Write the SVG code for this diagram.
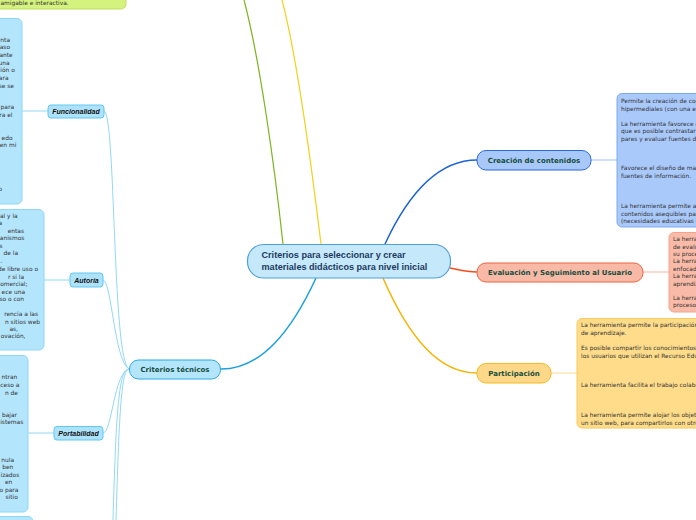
<svg xmlns="http://www.w3.org/2000/svg" width="696" height="520" viewBox="0 0 696 520">
<style>
.body{font-family:"DejaVu Sans",Verdana,sans-serif;font-size:5.9px;fill:#333}
.end{text-anchor:end}
.lbl{font-family:"DejaVu Sans",Verdana,sans-serif;font-size:7px;font-weight:bold;fill:#174d3c;text-anchor:middle}
.sub{font-family:"Liberation Sans",Arial,sans-serif;font-size:7px;font-weight:bold;font-style:italic;fill:#111;text-anchor:middle}
.main{font-family:"Liberation Sans",Arial,sans-serif;font-size:9.1px;font-weight:bold;fill:#1b3a5e}
.bbox{fill:#b3e5fc;stroke:#8fd6f6;stroke-width:1}
.bnode{fill:#aee2fa;stroke:#5fc8f2;stroke-width:1}
.thin{fill:none;stroke:#92d8f6;stroke-width:1}
</style>
<g id="connectors" fill="none">
<path d="M283,244 C275,170 260,60 244,0" stroke="#7bb51a" stroke-width="1.2"/>
<path d="M321,244 C312,170 298,60 282,0" stroke="#f0d21a" stroke-width="1.2"/>
<path d="M316,278 C292,330 262,369 221,369" stroke="#1d9fe0" stroke-width="1.5"/>
<path d="M385,244 C410,190 440,160 477,160" stroke="#1a62d6" stroke-width="1.5"/>
<path d="M450,268 C460,270 466,272 477,272" stroke="#f04c1c" stroke-width="1.5"/>
<path d="M383,278 C410,340 440,373 477,373" stroke="#f5b400" stroke-width="1.5"/>
<path d="M591,160 L617,160" stroke="#a9c9fb" stroke-width="1.2"/>
<path d="M643,272 L669,272" stroke="#f9c2b0" stroke-width="1.2"/>
<path d="M551,373 L577,373" stroke="#fde2a4" stroke-width="1.2"/>
<path class="thin" d="M104,111 C116,113 112,360 129,369"/>
<path class="thin" d="M103,280 C112,282 114,360 129,369"/>
<path class="thin" d="M103,433 C112,433 114,372 129,369"/>
<path class="thin" d="M129,369 C118,369 116,420 113,520"/>
<path class="thin" d="M129,369 C121,369 119,420 116,520"/>
<path class="thin" d="M22,111 L48,111"/>
<path class="thin" d="M44,280 L70,280"/>
<path class="thin" d="M28,433 L54,433"/>
</g>
<g id="top-green">
<rect x="-20" y="-20" width="146" height="29" rx="5" fill="#d4f27e" stroke="#bde05e"/>
<text class="body" x="0.5" y="5">amigable e interactiva.</text>
</g>
<g id="funcionalidad-text">
<rect class="bbox" x="-20" y="18.5" width="42" height="185.5" rx="5"/>
<text class="body end" x="10" y="41.5">nta</text>
<text class="body end" x="10" y="49">aso</text>
<text class="body end" x="12.7" y="57">ante</text>
<text class="body end" x="9.5" y="64.5">una</text>
<text class="body end" x="14.8" y="72">ción o</text>
<text class="body end" x="8.5" y="80">ara</text>
<text class="body end" x="14" y="87.5">se se</text>
<text class="body end" x="14" y="108.7">para</text>
<text class="body end" x="12.5" y="116.5">ra el</text>
<text class="body end" x="12.5" y="139.5">edo</text>
<text class="body end" x="16.3" y="147">en mi</text>
<text class="body end" x="2.2" y="191">o</text>
</g>
<g id="funcionalidad">
<rect class="bnode" x="48" y="105" width="56" height="13" rx="3"/>
<text class="sub" x="76" y="114">Funcionalidad</text>
</g>
<g id="autoria-text">
<rect class="bbox" x="-20" y="209.5" width="64" height="140.5" rx="5"/>
<text class="body end" x="17.7" y="217.7">al y la</text>
<text class="body end" x="2.2" y="225.3">a</text>
<text class="body end" x="24" y="232.7">entas</text>
<text class="body end" x="24.3" y="240.3">anismos</text>
<text class="body end" x="2.6" y="247.7">s</text>
<text class="body end" x="18" y="255.3">de la</text>
<text class="body end" x="2" y="263">.</text>
<text class="body end" x="38" y="271.3">de libre uso o</text>
<text class="body end" x="24" y="278.7">r si la</text>
<text class="body end" x="27.5" y="286">a comercial;</text>
<text class="body end" x="25" y="293.7">ece una</text>
<text class="body end" x="24" y="301">so o con</text>
<text class="body end" x="38" y="316">rencia a las</text>
<text class="body end" x="40" y="323.7">n sitios web</text>
<text class="body end" x="18" y="331">as,</text>
<text class="body end" x="25.5" y="338">ovación,</text>
</g>
<g id="autoria">
<rect class="bnode" x="70" y="273" width="33" height="14" rx="3"/>
<text class="sub" x="86.5" y="282.5">Autoría</text>
</g>
<g id="portabilidad-text">
<rect class="bbox" x="-20" y="355.5" width="48" height="156.5" rx="5"/>
<text class="body end" x="17.3" y="379">ntran</text>
<text class="body end" x="19.3" y="387">ceso a</text>
<text class="body end" x="18" y="394.5">n de</text>
<text class="body end" x="17" y="416.5">bajar</text>
<text class="body end" x="23.3" y="423.5">istemas</text>
<text class="body end" x="14" y="461.5">nula</text>
<text class="body end" x="13.3" y="469">ben</text>
<text class="body end" x="19.3" y="476.5">izados</text>
<text class="body end" x="12.3" y="483.5">en</text>
<text class="body end" x="18.3" y="491.5">o para</text>
<text class="body end" x="17.8" y="499">sitio</text>
</g>
<g id="portabilidad">
<rect class="bnode" x="54" y="426.5" width="49" height="13.5" rx="3"/>
<text class="sub" x="78.5" y="436">Portabilidad</text>
</g>
<g id="next-box">
<rect class="bbox" x="-20" y="516.5" width="53" height="30" rx="5"/>
</g>
<g id="criterios-tecnicos">
<rect x="129.5" y="360" width="91" height="19" rx="9" fill="#b3e5fc" stroke="#2aa9e2" stroke-width="1"/>
<text class="lbl" x="175" y="372">Criterios técnicos</text>
</g>
<g id="main">
<rect x="247.5" y="244.5" width="203" height="33.5" rx="16" fill="#c5e8fa" stroke="#4f9fd8" stroke-width="1.2"/>
<text class="main" x="261.5" y="258.3">Criterios para seleccionar y crear</text>
<text class="main" x="261.5" y="270">materiales didácticos para nivel inicial</text>
</g>
<g id="creacion">
<rect x="477" y="150.5" width="114" height="19.5" rx="9" fill="#a8c8f9" stroke="#2b6bd8" stroke-width="1"/>
<text class="lbl" x="534" y="163">Creación de contenidos</text>
</g>
<g id="creacion-text">
<rect x="617" y="93.5" width="100" height="133.5" rx="5" fill="#a9c9fb" stroke="#7ea9ef" stroke-width="1"/>
<text class="body" x="621" y="103">Permite la creación de contenidos</text>
<text class="body" x="621" y="110.5">hipermediales (con una estructura</text>
<text class="body" x="621" y="125.5">La herramienta favorece el trabajo</text>
<text class="body" x="621" y="133">que es posible contrastar con sus</text>
<text class="body" x="621" y="140.5">pares y evaluar fuentes de</text>
<text class="body" x="621" y="170">Favorece el diseño de materiales</text>
<text class="body" x="621" y="177.5">fuentes de información.</text>
<text class="body" x="621" y="208">La herramienta permite adaptar</text>
<text class="body" x="621" y="215.5">contenidos asequibles para todos</text>
<text class="body" x="621" y="223">(necesidades educativas especiales</text>
</g>
<g id="evaluacion">
<rect x="477" y="263" width="166" height="19" rx="9" fill="#f8b9a6" stroke="#f0623f" stroke-width="1"/>
<text class="lbl" x="560" y="275.3">Evaluación y Seguimiento al Usuario</text>
</g>
<g id="evaluacion-text">
<rect x="669" y="232.5" width="60" height="79.5" rx="5" fill="#f9bba8" stroke="#f2a38d" stroke-width="1"/>
<text class="body" x="673" y="241">La herramienta</text>
<text class="body" x="673" y="248.5">de evaluación</text>
<text class="body" x="673" y="256">su proceso</text>
<text class="body" x="673" y="263">La herramienta</text>
<text class="body" x="673" y="270.5">enfocada</text>
<text class="body" x="673" y="278">La herramienta</text>
<text class="body" x="673" y="285.5">aprendizaje</text>
<text class="body" x="673" y="299.5">La herramienta</text>
<text class="body" x="673" y="307">proceso</text>
</g>
<g id="participacion">
<rect x="477" y="363.5" width="74" height="19.5" rx="9" fill="#fdd888" stroke="#f6b923" stroke-width="1"/>
<text class="lbl" x="514" y="376">Participación</text>
</g>
<g id="participacion-text">
<rect x="577" y="318.5" width="140" height="109.5" rx="5" fill="#fedc8a" stroke="#f6ca5c" stroke-width="1"/>
<text class="body" x="581" y="327.3">La herramienta permite la participación</text>
<text class="body" x="581" y="335">de aprendizaje.</text>
<text class="body" x="581" y="350">Es posible compartir los conocimientos</text>
<text class="body" x="581" y="357.5">los usuarios que utilizan el Recurso Educativo</text>
<text class="body" x="581" y="387">La herramienta facilita el trabajo colaborativo</text>
<text class="body" x="581" y="417">La herramienta permite alojar los objetos</text>
<text class="body" x="581" y="424.5">un sitio web, para compartirlos con otros</text>
</g>
</svg>
